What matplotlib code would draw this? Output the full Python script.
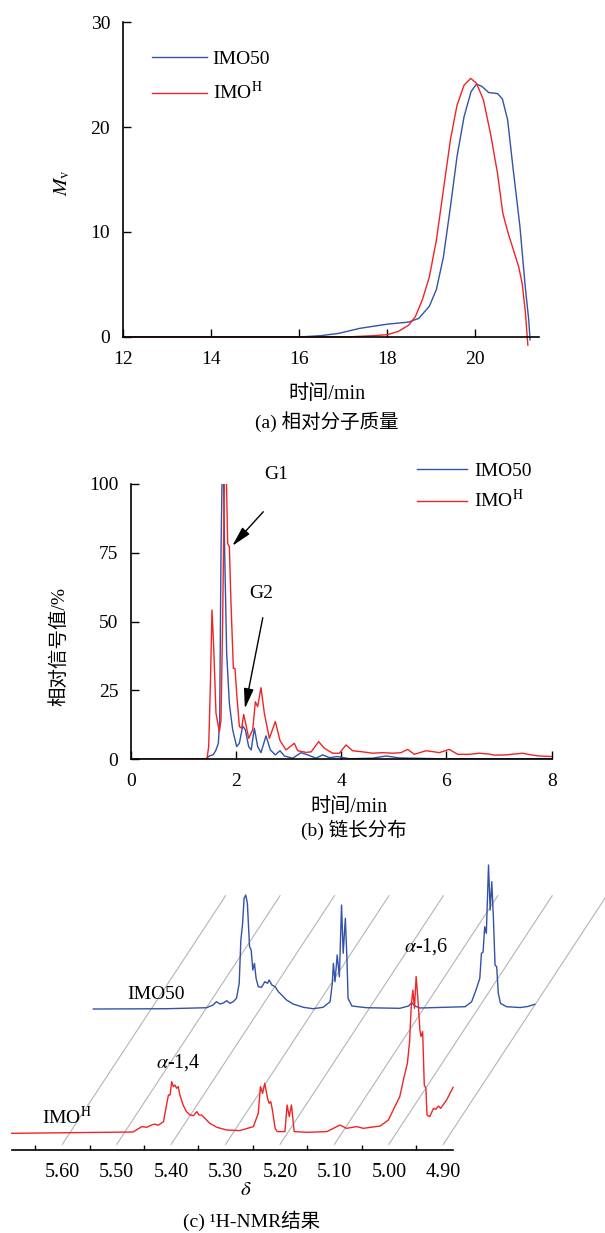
import matplotlib
matplotlib.use('Agg')
import matplotlib.pyplot as plt

plt.rcParams['font.family'] = ['Liberation Serif', 'Noto Sans CJK SC']
plt.rcParams['mathtext.fontset'] = 'stix'
plt.rcParams['font.size'] = 13.5
plt.rcParams['axes.unicode_minus'] = False

BLUE = '#3352a8'
RED = '#f02424'
names = ['IMO50', 'IMO$^{\\rm H}$']

# ---- (a) relative molecular mass ----
a_imo50_t = [12.0, 16.1, 16.5, 16.91, 17.39, 17.70, 18.02, 18.50, 18.73, 18.97, 19.13,
             19.29, 19.45, 19.60, 19.76, 19.92, 20.04, 20.16, 20.32, 20.52, 20.63,
             20.75, 20.87, 21.03, 21.15, 21.23, 21.26]
a_imo50_mv = [0, 0, 0.1, 0.32, 0.8, 1.0, 1.2, 1.4, 1.75, 2.9, 4.5,
              7.6, 12.4, 17.2, 21.0, 23.4, 24.1, 23.9, 23.3, 23.2, 22.7,
              20.7, 16.2, 10.5, 4.8, 1.6, -0.3]
a_imoh_t = [12.0, 17.2, 17.7, 18.02, 18.26, 18.50, 18.65, 18.81, 18.97, 19.13, 19.29,
            19.45, 19.60, 19.76, 19.91, 20.04, 20.20, 20.36, 20.52, 20.64, 20.76,
            20.88, 21.00, 21.08, 21.15, 21.21]
a_imoh_mv = [0, 0, 0.1, 0.2, 0.5, 1.1, 1.9, 3.5, 5.7, 9.2, 14.0,
             18.8, 22.1, 24.0, 24.65, 24.2, 22.6, 19.4, 15.6, 11.8, 9.9,
             8.3, 6.7, 5.1, 2.5, -0.8]
a_xticks = [12, 14, 16, 18, 20]
a_yticks = [0, 10, 20, 30]

# ---- (b) chain length distribution ----
b_imo50_t = [0, 1.431, 1.495, 1.571, 1.621, 1.666, 1.691, 1.716, 1.750, 1.786, 1.824,
             1.875, 1.938, 2.014, 2.065, 2.128, 2.179, 2.242, 2.290, 2.350, 2.413,
             2.476, 2.571, 2.654, 2.749, 2.837, 2.920, 3.078, 3.236, 3.363, 3.521,
             3.648, 3.775, 3.933, 4.155, 4.598, 4.851, 5.104, 5.864, 8.0]
b_imo50_y = [0, 0.2, 1.2, 1.7, 3.4, 5.8, 14.3, 75, 120, 75, 38.5,
             20.3, 10.7, 4.6, 5.8, 12.1, 10.7, 4.6, 3.4, 11.3, 4.6,
             2.4, 8.5, 3.4, 1.6, 3.1, 1.2, 0.4, 2.4, 1.6, 0.4,
             1.6, 0.6, 1.0, 0.2, 0.4, 1.2, 0.5, 0.2, 0.2]
b_imoh_t = [0, 1.450, 1.482, 1.514, 1.545, 1.577, 1.621, 1.685, 1.716, 1.748, 1.795,
            1.843, 1.875, 1.906, 1.951, 1.982, 2.014, 2.065, 2.109, 2.147, 2.191,
            2.242, 2.318, 2.369, 2.413, 2.476, 2.540, 2.635, 2.749, 2.837, 2.951,
            3.110, 3.173, 3.331, 3.430, 3.572, 3.680, 3.838, 3.965, 4.091, 4.218,
            4.408, 4.598, 4.788, 4.978, 5.136, 5.263, 5.389, 5.611, 5.769, 5.864,
            6.054, 6.213, 6.435, 6.624, 6.814, 6.909, 7.131, 7.448, 7.606, 7.764, 8.0]
b_imoh_y = [0, 0.2, 4.6, 26.4, 54.2, 40.9, 16.7, 10.0, 14.3, 50.6, 125,
            78.4, 77.2, 56.7, 33.0, 33.0, 24.0, 11.9, 11.3, 16.3, 12.5,
            7.6, 10.7, 20.9, 19.1, 26.0, 16.7, 7.6, 13.7, 6.8, 3.4,
            5.8, 3.1, 2.5, 2.7, 6.4, 4.0, 2.2, 2.2, 5.2, 3.1,
            2.7, 2.2, 2.4, 2.2, 2.4, 3.6, 1.8, 3.1, 2.7, 2.4,
            3.6, 1.8, 1.8, 2.2, 1.9, 1.5, 1.6, 2.2, 1.6, 1.2, 1.0]
b_xticks = [0, 2, 4, 6, 8]
b_yticks = [0, 25, 50, 75, 100]

# ---- (c) 1H-NMR ----
c_imo50_ppm = [5.693, 5.558, 5.485, 5.473, 5.467, 5.460, 5.453, 5.448, 5.442, 5.436,
               5.430, 5.425, 5.422, 5.419, 5.416, 5.413, 5.410, 5.406, 5.403, 5.400,
               5.397, 5.394, 5.390, 5.384, 5.378, 5.373, 5.370, 5.365, 5.359, 5.353,
               5.347, 5.338, 5.326, 5.307, 5.289, 5.271, 5.258, 5.254, 5.252, 5.249,
               5.245, 5.241, 5.237, 5.234, 5.230, 5.227, 5.225, 5.218, 5.191, 5.130,
               5.114, 5.108, 5.102, 5.093, 5.010, 4.998, 4.990, 4.983, 4.980, 4.977,
               4.974, 4.971, 4.967, 4.964, 4.961, 4.958, 4.955, 4.952, 4.949, 4.945,
               4.934, 4.909, 4.895, 4.882]
c_imo50_int = [0, 0.3, 1.3, 4.0, 7.3, 5.0, 6.3, 8.3, 5.7, 7.3,
               10.7, 25.7, 69, 84, 110.7, 114, 105.7, 62.3, 59, 39,
               45.7, 30.7, 22.3, 21.7, 27.3, 25.7, 29, 24, 22.3, 17.3,
               14, 9, 5, 1.7, 0.3, 1.7, 7.3, 25.7, 45.7, 27.3,
               54, 32.3, 104, 55.7, 90.7, 49, 10.7, 3, 1.3, 0.7,
               3, 6.3, 3, 1, 2.3, 7.3, 19, 30.7, 55.7, 57,
               82.3, 75.7, 144, 99, 127.3, 90.7, 44, 42.3, 15.7, 5.7,
               2.3, 1.5, 2.5, 4.7]
c_imoh_ppm = [5.693, 5.470, 5.454, 5.445, 5.436, 5.430, 5.424, 5.414, 5.408, 5.405,
              5.402, 5.399, 5.396, 5.393, 5.390, 5.387, 5.384, 5.378, 5.372, 5.365,
              5.359, 5.353, 5.349, 5.344, 5.338, 5.329, 5.316, 5.298, 5.274, 5.249,
              5.240, 5.236, 5.232, 5.228, 5.223, 5.220, 5.217, 5.214, 5.209, 5.205,
              5.191, 5.187, 5.183, 5.179, 5.174, 5.151, 5.114, 5.102, 5.090, 5.078,
              5.059, 5.047, 5.016, 5.001, 4.989, 4.980, 4.972, 4.966, 4.962, 4.959,
              4.956, 4.953, 4.950, 4.947, 4.943, 4.941, 4.938, 4.935, 4.932, 4.930,
              4.925, 4.918, 4.914, 4.909, 4.905, 4.894, 4.882]
c_imoh_int = [0, 1.3, 6.7, 6.0, 8.3, 9.3, 8.0, 11.7, 30, 38.3,
              38.3, 51.7, 46.7, 48.3, 45, 46.7, 38.3, 28.3, 21.7, 18.3,
              17.7, 21.7, 18.3, 18.3, 15, 10, 6, 3.3, 2.7, 6.7,
              20, 46.7, 40, 50, 35, 30, 31.7, 23.3, 5, 1.7,
              1.7, 28.3, 16.7, 28.3, 1.7, 1, 1.7, 5, 8.3, 5,
              6.7, 5, 7.3, 13.3, 26.7, 36.7, 56.7, 70, 91.7, 126.7,
              143.3, 125, 156.7, 136.7, 103.3, 96.7, 101.7, 48.3, 45, 18.3,
              16.7, 25, 24, 27.3, 25, 33.3, 46]
c_ticks = [5.60, 5.50, 5.40, 5.30, 5.20, 5.10, 5.00, 4.90]
c_minor = [5.65, 5.55, 5.45, 5.35, 5.25, 5.15, 5.05, 4.95]

# waterfall geometry of panel (c): y in pixel-like units above the axis
c_base = 16.7        # red baseline above axis
c_dppm = 0.150       # shift of the back trace
c_dy = 124.3         # lift of the back trace

fig = plt.figure(figsize=(6.05, 12.33), dpi=100)

# ------------------------------------------------ (a)
ax1 = fig.add_axes([0.2028, 0.7269, 0.6886, 0.2550])
ax1.plot(a_imo50_t, a_imo50_mv, color=BLUE, lw=1.0, label=names[0], clip_on=False)
ax1.plot(a_imoh_t, a_imoh_mv, color=RED, lw=1.0, label=names[1], clip_on=False)
ax1.set_xlim(12, 21.47)
ax1.set_ylim(0, 30)
ax1.set_xticks(a_xticks)
ax1.set_yticks(a_yticks)
ax1.set_ylabel('$M_{\\rm v}$', fontsize=15)
ax1.yaxis.set_label_coords(-0.122, 0.49)
ax1.set_xlabel('时间/min', fontsize=14.5)
ax1.xaxis.set_label_coords(0.49, -0.185)
ax1.xaxis.label.set_va('center')
ax1.legend(loc='upper left', bbox_to_anchor=(0.071, 0.912), frameon=False,
           borderpad=0, borderaxespad=0, handlelength=2.8, handletextpad=0.3,
           labelspacing=0.7, fontsize=14)

# ------------------------------------------------ (b)
ax2 = fig.add_axes([0.2160, 0.3842, 0.6959, 0.2233])
ax2.plot(b_imo50_t, b_imo50_y, color=BLUE, lw=1.0, label=names[0])
ax2.plot(b_imoh_t, b_imoh_y, color=RED, lw=1.0, label=names[1])
ax2.set_xlim(0, 8)
ax2.set_ylim(0, 100)
ax2.set_xticks(b_xticks)
ax2.set_yticks(b_yticks)
ax2.set_ylabel('相对信号值/%', fontsize=14)
ax2.yaxis.set_label_coords(-0.148, 0.41)
ax2.set_xlabel('时间/min', fontsize=14.5)
ax2.xaxis.set_label_coords(0.5185, -0.176)
ax2.xaxis.label.set_va('center')
ax2.legend(loc='upper left', bbox_to_anchor=(0.679, 1.080), frameon=False,
           borderpad=0, borderaxespad=0, handlelength=2.6, handletextpad=0.35,
           labelspacing=0.5, fontsize=14)
arrow = dict(arrowstyle='-|>,head_length=0.9,head_width=0.22', color='black', lw=1.0,
             shrinkA=0, shrinkB=0)
ax2.text(2.76, 103.6, 'G1', ha='center', va='center', fontsize=14)
ax2.annotate('', xy=(1.93, 77.5), xytext=(2.52, 89.9), arrowprops=arrow)
ax2.text(2.48, 60.3, 'G2', ha='center', va='center', fontsize=14)
ax2.annotate('', xy=(2.17, 18.4), xytext=(2.51, 51.4), arrowprops=arrow)

for ax in (ax1, ax2):
    for s in ('top', 'right'):
        ax.spines[s].set_visible(False)
    ax.spines['left'].set_linewidth(1.2)
    ax.spines['bottom'].set_linewidth(1.2)
    ax.tick_params(direction='in', length=6, width=1.0, labelsize=14)
    ax.tick_params(axis='x', pad=10)
    ax.tick_params(axis='y', pad=9)

# ------------------------------------------------ (c)
ax3 = fig.add_axes([0.0193, 0.0673, 0.9807, 0.2352])
ax3.set_xlim(5.693, 4.603)
ax3.set_ylim(0, 290)
for t in c_ticks:
    ax3.plot([t, t - 2 * c_dppm], [5.7, 5.7 + 2 * c_dy], color='#b4b4b4', lw=0.8,
             zorder=1, clip_on=False)
ax3.plot([p - c_dppm for p in c_imo50_ppm], [v + c_base + c_dy for v in c_imo50_int],
         color=BLUE, lw=1.0, zorder=2, clip_on=False)
ax3.plot(c_imoh_ppm, [v + c_base for v in c_imoh_int], color=RED, lw=1.0, zorder=3,
         clip_on=False)
ax3.text(5.428, 156, 'IMO50', ha='center', va='center', fontsize=14)
ax3.text(5.592, 33.3, names[1], ha='center', va='center', fontsize=14)
ax3.text(5.386, 87.7, '$\\alpha$-1,4', ha='center', va='center', fontsize=14.5)
ax3.text(4.932, 203.3, '$\\alpha$-1,6', ha='center', va='center', fontsize=14.5)
ax3.set_xticks(c_ticks)
ax3.set_xticks(c_minor, minor=True)
ax3.set_xticklabels(['%.2f' % t for t in c_ticks])
ax3.set_yticks([])
for s in ('top', 'right', 'left'):
    ax3.spines[s].set_visible(False)
ax3.spines['bottom'].set_bounds(5.693, 4.882)
ax3.spines['bottom'].set_linewidth(1.2)
ax3.tick_params(axis='x', which='major', length=0, labelsize=14.5, pad=9)
ax3.tick_params(axis='x', which='minor', direction='in', length=3.5, width=1.0)
ax3.set_xlabel('$\\delta$', fontsize=15)
ax3.xaxis.set_label_coords(0.395, -0.138)
ax3.xaxis.label.set_va('center')

# captions
fig.text(0.540, 0.658, '(a) 相对分子质量', ha='center', va='center', fontsize=14)
fig.text(0.585, 0.3268, '(b) 链长分布', ha='center', va='center', fontsize=14)
fig.text(0.416, 0.0095, '(c) \u00b9H-NMR结果', ha='center', va='center', fontsize=14)

fig.savefig('out.png', dpi=100)
